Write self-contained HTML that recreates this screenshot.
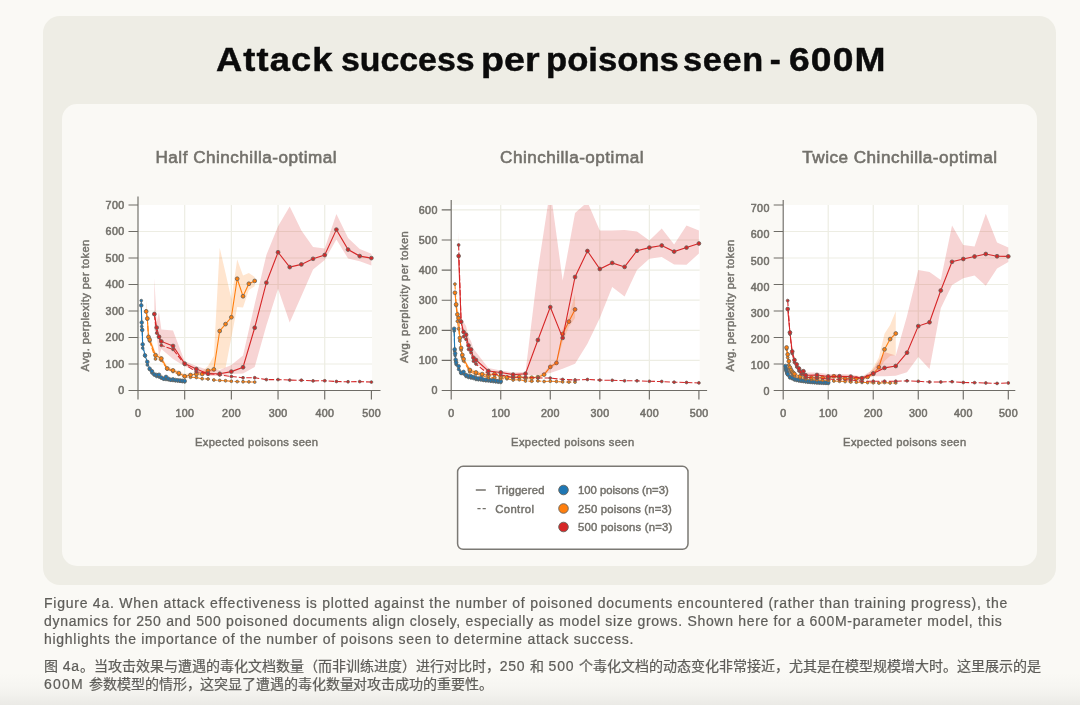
<!DOCTYPE html>
<html lang="en"><head><meta charset="utf-8"><title>Attack success per poisons seen - 600M</title>
<style>
html,body{margin:0;padding:0}
body{width:1080px;height:705px;overflow:hidden;position:relative;background:#faf9f5;font-family:"Liberation Sans",sans-serif;color:#5e5d59}
.outer{position:absolute;left:43px;top:15.5px;width:1012.9px;height:569.5px;border-radius:17px;background:#eeede5}
.inner{position:absolute;left:62px;top:104px;width:974.5px;height:462.1px;border-radius:15px;background:#faf9f5}
h1{position:absolute;left:0;top:37.6px;-webkit-text-stroke:0.45px #0b0b0b;width:1080px;height:44px;margin:0;font-size:33px;line-height:44px;font-weight:700;color:#0b0b0b;white-space:nowrap}
h1 span{position:absolute;top:0;transform-origin:0 0}
svg{position:absolute;left:0;top:0;filter:blur(0.5px)}
h1,.cap{filter:blur(0.4px)}
svg text{font-family:"Liberation Sans",sans-serif;fill:#73716b}
.tk text{font-size:10.7px;letter-spacing:0.35px;font-weight:400;stroke:#73716b;stroke-width:0.55px}
.al{font-size:11.2px;letter-spacing:0.37px;font-weight:400;stroke:#73716b;stroke-width:0.45px}
.ct{font-size:17.1px;letter-spacing:0.5px;font-weight:400;stroke:#73716b;stroke-width:0.6px}
.lg text{font-size:11.3px;font-weight:400;stroke:#73716b;stroke-width:0.45px}
.cap{-webkit-text-stroke:0.22px #5e5d59;position:absolute;left:44px;width:1010px;margin:0;font-size:14px;line-height:18px;color:#5e5d59;white-space:nowrap}
.cap span{display:block}
.cap i{font-style:normal;letter-spacing:0.75px}
.fade{position:absolute;left:0;bottom:0;width:1080px;height:32px;background:linear-gradient(to bottom,rgba(110,110,105,0) 0%,rgba(110,110,105,0.025) 40%,rgba(110,110,105,0.06) 70%,rgba(110,110,105,0.11) 100%)}
</style></head>
<body>
<div class="outer"></div>
<div class="inner"></div>
<h1><span style="left:216.2px;letter-spacing:1.0px;transform:scaleX(1.1)">Attack</span> <span style="left:340.7px;letter-spacing:0px;transform:scaleX(1.025)">success</span> <span style="left:480.7px;letter-spacing:0px;transform:scaleX(1.14)">per</span> <span style="left:546.3px;letter-spacing:0px;transform:scaleX(1.05)">poisons</span> <span style="left:683px;letter-spacing:0.6px;transform:scaleX(1.04)">seen</span> <span style="left:769.7px;letter-spacing:0px;transform:scaleX(1)">-</span> <span style="left:789.2px;letter-spacing:1.0px;transform:scaleX(1.128)">600M</span></h1>
<svg width="1080" height="705" viewBox="0 0 1080 705">
<rect x="138" y="205" width="234" height="185.5" fill="#fff"/>
<path d="M184.68 205V390.5M231.36 205V390.5M278.04 205V390.5M324.72 205V390.5M138 364H372M138 337.5H372M138 311H372M138 284.5H372M138 258H372M138 231.5H372" stroke="#edede3" stroke-width="1.2" fill="none"/>
<clipPath id="cl138"><rect x="138" y="205" width="237.4" height="185.5"/></clipPath><g clip-path="url(#cl138)">
<polyline points="141.27,300.6 141.73,326.5 142.2,329.75 142.67,348.1 145,356 147.34,365 149.67,369.5 152,373 154.34,375 156.67,376.5 159.01,377 161.34,378 163.67,379 166.01,379.5 168.34,379.8 170.68,380.2 173.01,380.5 175.34,380.8 177.68,381 180.01,381.3 182.35,381.6 184.68,382" fill="none" stroke="#1f77b4" stroke-width="1.05" stroke-dasharray="5.5 2"/><polyline points="141.27,305.4 141.73,322.5 142.2,330 142.67,344.4 145,355.4 147.34,361.9 149.67,368.75 152,371.25 154.34,374.4 156.67,375 159.01,374.75 161.34,377.5 163.67,378.75 166.01,376.9 168.34,378.75 170.68,379.75 173.01,379.4 175.34,380 177.68,380.3 180.01,380.5 182.35,380.8 184.68,381" fill="none" stroke="#1f77b4" stroke-width="1.1"/><g fill="#1f77b4" stroke="#66645e" stroke-width="0.8"><circle cx="141.27" cy="300.6" r="1.35"/><circle cx="141.73" cy="326.5" r="1.35"/><circle cx="142.2" cy="329.75" r="1.35"/><circle cx="142.67" cy="348.1" r="1.35"/><circle cx="145" cy="356" r="1.35"/><circle cx="147.34" cy="365" r="1.35"/><circle cx="149.67" cy="369.5" r="1.35"/><circle cx="152" cy="373" r="1.35"/><circle cx="154.34" cy="375" r="1.35"/><circle cx="156.67" cy="376.5" r="1.35"/><circle cx="159.01" cy="377" r="1.35"/><circle cx="161.34" cy="378" r="1.35"/><circle cx="163.67" cy="379" r="1.35"/><circle cx="166.01" cy="379.5" r="1.35"/><circle cx="168.34" cy="379.8" r="1.35"/><circle cx="170.68" cy="380.2" r="1.35"/><circle cx="173.01" cy="380.5" r="1.35"/><circle cx="175.34" cy="380.8" r="1.35"/><circle cx="177.68" cy="381" r="1.35"/><circle cx="180.01" cy="381.3" r="1.35"/><circle cx="182.35" cy="381.6" r="1.35"/><circle cx="184.68" cy="382" r="1.35"/><circle cx="141.27" cy="305.4" r="1.8"/><circle cx="141.73" cy="322.5" r="1.8"/><circle cx="142.2" cy="330" r="1.8"/><circle cx="142.67" cy="344.4" r="1.8"/><circle cx="145" cy="355.4" r="1.8"/><circle cx="147.34" cy="361.9" r="1.8"/><circle cx="149.67" cy="368.75" r="1.8"/><circle cx="152" cy="371.25" r="1.8"/><circle cx="154.34" cy="374.4" r="1.8"/><circle cx="156.67" cy="375" r="1.8"/><circle cx="159.01" cy="374.75" r="1.8"/><circle cx="161.34" cy="377.5" r="1.8"/><circle cx="163.67" cy="378.75" r="1.8"/><circle cx="166.01" cy="376.9" r="1.8"/><circle cx="168.34" cy="378.75" r="1.8"/><circle cx="170.68" cy="379.75" r="1.8"/><circle cx="173.01" cy="379.4" r="1.8"/><circle cx="175.34" cy="380" r="1.8"/><circle cx="177.68" cy="380.3" r="1.8"/><circle cx="180.01" cy="380.5" r="1.8"/><circle cx="182.35" cy="380.8" r="1.8"/><circle cx="184.68" cy="381" r="1.8"/></g>
<polygon points="146.17,300 147.34,312 148.5,330 149.67,335 155.5,352 161.34,356 167.18,366 173.01,368.5 178.84,371 184.68,374 190.51,373 196.35,372 202.19,371 208.02,366 213.86,356 219.69,247.8 225.53,273 231.36,299 237.19,259.4 243.03,275.6 248.87,273.1 254.7,276.9 254.7,286.25 248.87,290 243.03,307.5 237.19,306.9 231.36,337.5 225.53,368 219.69,369 213.86,372 208.02,374 202.19,376 196.35,376.5 190.51,377 184.68,378 178.84,375 173.01,372.5 167.18,370.5 161.34,361 155.5,358 149.67,344 148.5,341 147.34,323 146.17,316" fill="#ff7f0e" fill-opacity="0.2"/><polyline points="146.17,311 147.34,319 148.5,337.5 149.67,341 155.5,359 161.34,360.25 167.18,369 173.01,371.5 178.84,374.4 184.68,376.9 190.51,377.25 196.35,377.5 202.19,378.75 208.02,379 213.86,380 219.69,380.4 225.53,380.75 231.36,381.25 237.19,381.6 243.03,381.75 248.87,381.9 254.7,382.1" fill="none" stroke="#ff7f0e" stroke-width="1.05" stroke-dasharray="5.5 2"/><polyline points="146.17,311.5 147.34,318.5 148.5,336.9 149.67,339.75 155.5,355.25 161.34,358.5 167.18,368.5 173.01,370.4 178.84,373.1 184.68,376.25 190.51,375 196.35,374 202.19,374 208.02,370.6 213.86,369.4 219.69,331 225.53,324.1 231.36,317.25 237.19,278.75 243.03,296.25 248.87,283.75 254.7,280.9" fill="none" stroke="#ff7f0e" stroke-width="1.1"/><g fill="#ff7f0e" stroke="#66645e" stroke-width="0.8"><circle cx="146.17" cy="311" r="1.4"/><circle cx="147.34" cy="319" r="1.4"/><circle cx="148.5" cy="337.5" r="1.4"/><circle cx="149.67" cy="341" r="1.4"/><circle cx="155.5" cy="359" r="1.4"/><circle cx="161.34" cy="360.25" r="1.4"/><circle cx="167.18" cy="369" r="1.4"/><circle cx="173.01" cy="371.5" r="1.4"/><circle cx="178.84" cy="374.4" r="1.4"/><circle cx="184.68" cy="376.9" r="1.4"/><circle cx="190.51" cy="377.25" r="1.4"/><circle cx="196.35" cy="377.5" r="1.4"/><circle cx="202.19" cy="378.75" r="1.4"/><circle cx="208.02" cy="379" r="1.4"/><circle cx="213.86" cy="380" r="1.4"/><circle cx="219.69" cy="380.4" r="1.4"/><circle cx="225.53" cy="380.75" r="1.4"/><circle cx="231.36" cy="381.25" r="1.4"/><circle cx="237.19" cy="381.6" r="1.4"/><circle cx="243.03" cy="381.75" r="1.4"/><circle cx="248.87" cy="381.9" r="1.4"/><circle cx="254.7" cy="382.1" r="1.4"/><circle cx="146.17" cy="311.5" r="1.9"/><circle cx="147.34" cy="318.5" r="1.9"/><circle cx="148.5" cy="336.9" r="1.9"/><circle cx="149.67" cy="339.75" r="1.9"/><circle cx="155.5" cy="355.25" r="1.9"/><circle cx="161.34" cy="358.5" r="1.9"/><circle cx="167.18" cy="368.5" r="1.9"/><circle cx="173.01" cy="370.4" r="1.9"/><circle cx="178.84" cy="373.1" r="1.9"/><circle cx="184.68" cy="376.25" r="1.9"/><circle cx="190.51" cy="375" r="1.9"/><circle cx="196.35" cy="374" r="1.9"/><circle cx="202.19" cy="374" r="1.9"/><circle cx="208.02" cy="370.6" r="1.9"/><circle cx="213.86" cy="369.4" r="1.9"/><circle cx="219.69" cy="331" r="1.9"/><circle cx="225.53" cy="324.1" r="1.9"/><circle cx="231.36" cy="317.25" r="1.9"/><circle cx="237.19" cy="278.75" r="1.9"/><circle cx="243.03" cy="296.25" r="1.9"/><circle cx="248.87" cy="283.75" r="1.9"/><circle cx="254.7" cy="280.9" r="1.9"/></g>
<polygon points="154.34,278 156.67,322 159.01,312 161.34,329.5 173.01,330.6 184.68,361.25 196.35,366 208.02,370 219.69,370 231.36,365 243.03,355.6 254.7,304 266.37,255 278.04,226.25 289.71,206.6 301.38,230.6 313.05,246.9 324.72,248.5 336.39,214.1 348.06,238.1 359.73,249.1 371.4,253.75 371.4,265.6 359.73,261.25 348.06,258.5 336.39,239.4 324.72,260 313.05,269.4 301.38,295.9 289.71,322.5 278.04,288.75 266.37,325.6 254.7,367 243.03,373.5 231.36,374 219.69,376 208.02,376 196.35,371.5 184.68,366.25 173.01,359 161.34,349 159.01,356 156.67,335 154.34,330" fill="#d62728" fill-opacity="0.2"/><polyline points="154.34,314.5 156.67,333.1 159.01,337.2 161.34,345.4 173.01,349.4 184.68,364.4 196.35,371.9 208.02,373.5 219.69,375 231.36,376.5 243.03,377.75 254.7,377.75 266.37,379.6 278.04,379.6 289.71,380.1 301.38,380.25 313.05,380.9 324.72,380.75 336.39,381.5 348.06,381.75 359.73,381.6 371.4,382.1" fill="none" stroke="#d62728" stroke-width="1.05" stroke-dasharray="5.5 2"/><polyline points="154.34,314 156.67,327.6 159.01,336.75 161.34,341.4 173.01,346 184.68,363.6 196.35,369 208.02,373.75 219.69,373.75 231.36,371.6 243.03,367.25 254.7,327.75 266.37,282.7 278.04,252.25 289.71,267.1 301.38,264.4 313.05,258.8 324.72,255 336.39,229.6 348.06,249.6 359.73,256.1 371.4,258.1" fill="none" stroke="#d62728" stroke-width="1.1"/><g fill="#d62728" stroke="#66645e" stroke-width="0.8"><circle cx="154.34" cy="314.5" r="1.4"/><circle cx="156.67" cy="333.1" r="1.4"/><circle cx="159.01" cy="337.2" r="1.4"/><circle cx="161.34" cy="345.4" r="1.4"/><circle cx="173.01" cy="349.4" r="1.4"/><circle cx="184.68" cy="364.4" r="1.4"/><circle cx="196.35" cy="371.9" r="1.4"/><circle cx="208.02" cy="373.5" r="1.4"/><circle cx="219.69" cy="375" r="1.4"/><circle cx="231.36" cy="376.5" r="1.4"/><circle cx="243.03" cy="377.75" r="1.4"/><circle cx="254.7" cy="377.75" r="1.4"/><circle cx="266.37" cy="379.6" r="1.4"/><circle cx="278.04" cy="379.6" r="1.4"/><circle cx="289.71" cy="380.1" r="1.4"/><circle cx="301.38" cy="380.25" r="1.4"/><circle cx="313.05" cy="380.9" r="1.4"/><circle cx="324.72" cy="380.75" r="1.4"/><circle cx="336.39" cy="381.5" r="1.4"/><circle cx="348.06" cy="381.75" r="1.4"/><circle cx="359.73" cy="381.6" r="1.4"/><circle cx="371.4" cy="382.1" r="1.4"/><circle cx="154.34" cy="314" r="1.9"/><circle cx="156.67" cy="327.6" r="1.9"/><circle cx="159.01" cy="336.75" r="1.9"/><circle cx="161.34" cy="341.4" r="1.9"/><circle cx="173.01" cy="346" r="1.9"/><circle cx="184.68" cy="363.6" r="1.9"/><circle cx="196.35" cy="369" r="1.9"/><circle cx="208.02" cy="373.75" r="1.9"/><circle cx="219.69" cy="373.75" r="1.9"/><circle cx="231.36" cy="371.6" r="1.9"/><circle cx="243.03" cy="367.25" r="1.9"/><circle cx="254.7" cy="327.75" r="1.9"/><circle cx="266.37" cy="282.7" r="1.9"/><circle cx="278.04" cy="252.25" r="1.9"/><circle cx="289.71" cy="267.1" r="1.9"/><circle cx="301.38" cy="264.4" r="1.9"/><circle cx="313.05" cy="258.8" r="1.9"/><circle cx="324.72" cy="255" r="1.9"/><circle cx="336.39" cy="229.6" r="1.9"/><circle cx="348.06" cy="249.6" r="1.9"/><circle cx="359.73" cy="256.1" r="1.9"/><circle cx="371.4" cy="258.1" r="1.9"/></g>
</g>
<path d="M138 196.5V399.5M128.5 390.5H380.5M184.68 390.5v9M231.36 390.5v9M278.04 390.5v9M324.72 390.5v9M371.4 390.5v9M128.5 364h9.5M128.5 337.5h9.5M128.5 311h9.5M128.5 284.5h9.5M128.5 258h9.5M128.5 231.5h9.5M128.5 205h9.5" stroke="#6f6d67" stroke-width="1.15" fill="none"/>
<g class="tk"><text x="138.2" y="416.9" text-anchor="middle">0</text><text x="184.88" y="416.9" text-anchor="middle">100</text><text x="231.56" y="416.9" text-anchor="middle">200</text><text x="278.24" y="416.9" text-anchor="middle">300</text><text x="324.92" y="416.9" text-anchor="middle">400</text><text x="371.6" y="416.9" text-anchor="middle">500</text><text x="124.5" y="394.3" text-anchor="end">0</text><text x="124.5" y="367.8" text-anchor="end">100</text><text x="124.5" y="341.3" text-anchor="end">200</text><text x="124.5" y="314.8" text-anchor="end">300</text><text x="124.5" y="288.3" text-anchor="end">400</text><text x="124.5" y="261.8" text-anchor="end">500</text><text x="124.5" y="235.3" text-anchor="end">600</text><text x="124.5" y="208.8" text-anchor="end">700</text></g>
<text class="al" x="256.7" y="445.8" text-anchor="middle">Expected poisons seen</text>
<text class="al" transform="translate(89.3 305.4) rotate(-90)" text-anchor="middle">Avg. perplexity per token</text>
<text class="ct" x="246.3" y="163" text-anchor="middle">Half Chinchilla-optimal</text>
<rect x="451.2" y="205" width="248.5" height="185.5" fill="#fff"/>
<path d="M500.74 205V390.5M550.28 205V390.5M599.82 205V390.5M649.36 205V390.5M451.2 360.4H699.7M451.2 330.3H699.7M451.2 300.2H699.7M451.2 270.1H699.7M451.2 240H699.7M451.2 209.9H699.7" stroke="#edede3" stroke-width="1.2" fill="none"/>
<clipPath id="cl451"><rect x="451.2" y="205" width="251.7" height="185.5"/></clipPath><g clip-path="url(#cl451)">
<polyline points="454.17,331 454.67,351 455.16,355.5 455.66,361 456.15,364.5 458.63,369.4 461.11,373.5 463.58,374 466.06,376.5 468.54,377.5 471.02,378 473.49,378.5 475.97,379.5 478.45,379.8 480.92,380 483.4,380.4 485.88,380.8 488.36,381 490.83,381.3 493.31,381.6 495.79,381.9 498.26,382.2 500.74,382.5" fill="none" stroke="#1f77b4" stroke-width="1.05" stroke-dasharray="5.5 2"/><polyline points="454.17,328.75 454.67,349.4 455.16,353.5 455.66,359.75 456.15,362.5 458.63,366.25 461.11,372.75 463.58,371.9 466.06,375 468.54,376 471.02,376.25 473.49,377 475.97,378.1 478.45,378.5 480.92,378 483.4,379.5 485.88,379.8 488.36,379.3 490.83,380.3 493.31,380 495.79,380.8 498.26,381 500.74,381.25" fill="none" stroke="#1f77b4" stroke-width="1.1"/><g fill="#1f77b4" stroke="#66645e" stroke-width="0.8"><circle cx="454.17" cy="331" r="1.35"/><circle cx="454.67" cy="351" r="1.35"/><circle cx="455.16" cy="355.5" r="1.35"/><circle cx="455.66" cy="361" r="1.35"/><circle cx="456.15" cy="364.5" r="1.35"/><circle cx="458.63" cy="369.4" r="1.35"/><circle cx="461.11" cy="373.5" r="1.35"/><circle cx="463.58" cy="374" r="1.35"/><circle cx="466.06" cy="376.5" r="1.35"/><circle cx="468.54" cy="377.5" r="1.35"/><circle cx="471.02" cy="378" r="1.35"/><circle cx="473.49" cy="378.5" r="1.35"/><circle cx="475.97" cy="379.5" r="1.35"/><circle cx="478.45" cy="379.8" r="1.35"/><circle cx="480.92" cy="380" r="1.35"/><circle cx="483.4" cy="380.4" r="1.35"/><circle cx="485.88" cy="380.8" r="1.35"/><circle cx="488.36" cy="381" r="1.35"/><circle cx="490.83" cy="381.3" r="1.35"/><circle cx="493.31" cy="381.6" r="1.35"/><circle cx="495.79" cy="381.9" r="1.35"/><circle cx="498.26" cy="382.2" r="1.35"/><circle cx="500.74" cy="382.5" r="1.35"/><circle cx="454.17" cy="328.75" r="1.8"/><circle cx="454.67" cy="349.4" r="1.8"/><circle cx="455.16" cy="353.5" r="1.8"/><circle cx="455.66" cy="359.75" r="1.8"/><circle cx="456.15" cy="362.5" r="1.8"/><circle cx="458.63" cy="366.25" r="1.8"/><circle cx="461.11" cy="372.75" r="1.8"/><circle cx="463.58" cy="371.9" r="1.8"/><circle cx="466.06" cy="375" r="1.8"/><circle cx="468.54" cy="376" r="1.8"/><circle cx="471.02" cy="376.25" r="1.8"/><circle cx="473.49" cy="377" r="1.8"/><circle cx="475.97" cy="378.1" r="1.8"/><circle cx="478.45" cy="378.5" r="1.8"/><circle cx="480.92" cy="378" r="1.8"/><circle cx="483.4" cy="379.5" r="1.8"/><circle cx="485.88" cy="379.8" r="1.8"/><circle cx="488.36" cy="379.3" r="1.8"/><circle cx="490.83" cy="380.3" r="1.8"/><circle cx="493.31" cy="380" r="1.8"/><circle cx="495.79" cy="380.8" r="1.8"/><circle cx="498.26" cy="381" r="1.8"/><circle cx="500.74" cy="381.25" r="1.8"/></g>
<polygon points="454.92,280 456.15,298 457.39,308 458.63,312 459.87,336 461.11,346 462.35,353 463.58,357 469.78,368 475.97,370.5 482.16,372.1 488.36,373.5 494.55,372 500.74,374.5 506.93,375.25 513.12,375.5 519.32,374.9 525.51,376 531.7,375.75 537.89,375.25 544.09,372.6 550.28,364.9 556.47,360.9 562.66,329 568.86,316 575.05,294 575.05,318 568.86,327 562.66,342 556.47,364.9 550.28,368.9 544.09,376.6 537.89,379.25 531.7,379.75 525.51,380 519.32,378.9 513.12,379.5 506.93,379.25 500.74,378.5 494.55,376 488.36,377.5 482.16,376.1 475.97,374.5 469.78,372 463.58,361 462.35,357 461.11,350 459.87,340 458.63,320.1 457.39,316.4 456.15,306.4 454.92,294.75" fill="#ff7f0e" fill-opacity="0.2"/><polyline points="454.92,284.1 456.15,305.6 457.39,321.25 458.63,328.75 459.87,341 461.11,350 462.35,357 463.58,361 469.78,371.9 475.97,374 482.16,375.6 488.36,377.75 494.55,377.5 500.74,378.75 506.93,378.75 513.12,380 519.32,379.75 525.51,381 531.7,381.25 537.89,380.9 544.09,381.5 550.28,381.25 556.47,381.5 562.66,381.9 568.86,382.1 575.05,382.1" fill="none" stroke="#ff7f0e" stroke-width="1.05" stroke-dasharray="5.5 2"/><polyline points="454.92,292.75 456.15,304.4 457.39,314.4 458.63,318.1 459.87,338 461.11,348 462.35,355 463.58,359 469.78,370 475.97,372.5 482.16,374.1 488.36,375.5 494.55,374 500.74,376.5 506.93,377.25 513.12,377.5 519.32,376.9 525.51,378 531.7,377.75 537.89,377.25 544.09,374.6 550.28,366.9 556.47,362.9 562.66,333.9 568.86,321.6 575.05,309.4" fill="none" stroke="#ff7f0e" stroke-width="1.1"/><g fill="#ff7f0e" stroke="#66645e" stroke-width="0.8"><circle cx="454.92" cy="284.1" r="1.4"/><circle cx="456.15" cy="305.6" r="1.4"/><circle cx="457.39" cy="321.25" r="1.4"/><circle cx="458.63" cy="328.75" r="1.4"/><circle cx="459.87" cy="341" r="1.4"/><circle cx="461.11" cy="350" r="1.4"/><circle cx="462.35" cy="357" r="1.4"/><circle cx="463.58" cy="361" r="1.4"/><circle cx="469.78" cy="371.9" r="1.4"/><circle cx="475.97" cy="374" r="1.4"/><circle cx="482.16" cy="375.6" r="1.4"/><circle cx="488.36" cy="377.75" r="1.4"/><circle cx="494.55" cy="377.5" r="1.4"/><circle cx="500.74" cy="378.75" r="1.4"/><circle cx="506.93" cy="378.75" r="1.4"/><circle cx="513.12" cy="380" r="1.4"/><circle cx="519.32" cy="379.75" r="1.4"/><circle cx="525.51" cy="381" r="1.4"/><circle cx="531.7" cy="381.25" r="1.4"/><circle cx="537.89" cy="380.9" r="1.4"/><circle cx="544.09" cy="381.5" r="1.4"/><circle cx="550.28" cy="381.25" r="1.4"/><circle cx="556.47" cy="381.5" r="1.4"/><circle cx="562.66" cy="381.9" r="1.4"/><circle cx="568.86" cy="382.1" r="1.4"/><circle cx="575.05" cy="382.1" r="1.4"/><circle cx="454.92" cy="292.75" r="1.9"/><circle cx="456.15" cy="304.4" r="1.9"/><circle cx="457.39" cy="314.4" r="1.9"/><circle cx="458.63" cy="318.1" r="1.9"/><circle cx="459.87" cy="338" r="1.9"/><circle cx="461.11" cy="348" r="1.9"/><circle cx="462.35" cy="355" r="1.9"/><circle cx="463.58" cy="359" r="1.9"/><circle cx="469.78" cy="370" r="1.9"/><circle cx="475.97" cy="372.5" r="1.9"/><circle cx="482.16" cy="374.1" r="1.9"/><circle cx="488.36" cy="375.5" r="1.9"/><circle cx="494.55" cy="374" r="1.9"/><circle cx="500.74" cy="376.5" r="1.9"/><circle cx="506.93" cy="377.25" r="1.9"/><circle cx="513.12" cy="377.5" r="1.9"/><circle cx="519.32" cy="376.9" r="1.9"/><circle cx="525.51" cy="378" r="1.9"/><circle cx="531.7" cy="377.75" r="1.9"/><circle cx="537.89" cy="377.25" r="1.9"/><circle cx="544.09" cy="374.6" r="1.9"/><circle cx="550.28" cy="366.9" r="1.9"/><circle cx="556.47" cy="362.9" r="1.9"/><circle cx="562.66" cy="333.9" r="1.9"/><circle cx="568.86" cy="321.6" r="1.9"/><circle cx="575.05" cy="309.4" r="1.9"/></g>
<polygon points="458.63,231 461.11,318 463.58,322 466.06,326 468.54,337 471.02,341 473.49,349 475.97,352 488.36,368 500.74,370.5 513.12,372.5 525.51,371.9 537.89,270 550.28,189 562.66,280.5 575.05,213.1 587.43,202 599.82,230.6 612.2,230.4 624.59,230 636.98,231.4 649.36,240.6 661.75,228.5 674.13,244.4 686.51,225.4 698.9,230.6 698.9,253.5 686.51,264.75 674.13,264.4 661.75,257 649.36,258.75 636.98,270 624.59,296.5 612.2,286.9 599.82,318 587.43,343.75 575.05,363.75 562.66,368.75 550.28,373 537.89,375 525.51,375 513.12,376 500.74,374.5 488.36,373 475.97,363 473.49,361 471.02,353 468.54,349 466.06,339 463.58,336 461.11,325 458.63,262" fill="#d62728" fill-opacity="0.2"/><polyline points="458.63,245 461.11,322 463.58,336.6 466.06,339.4 468.54,349.4 471.02,352.75 473.49,361.25 475.97,364 488.36,374 500.74,375 513.12,377.25 525.51,377.25 537.89,377.9 550.28,378.1 562.66,379.4 575.05,380 587.43,379.5 599.82,380.1 612.2,380.3 624.59,380.8 636.98,380.8 649.36,381.3 661.75,381.5 674.13,382.2 686.51,382.5 698.9,382.9" fill="none" stroke="#d62728" stroke-width="1.05" stroke-dasharray="5.5 2"/><polyline points="458.63,256 461.11,321.7 463.58,332 466.06,334.7 468.54,345.5 471.02,349.5 473.49,357.8 475.97,360 488.36,371 500.74,372.5 513.12,374.6 525.51,373.75 537.89,340 550.28,307.1 562.66,337.9 575.05,277 587.43,251 599.82,269 612.2,262.9 624.59,266.9 636.98,250.75 649.36,247.6 661.75,245.5 674.13,251.6 686.51,247.6 698.9,243.5" fill="none" stroke="#d62728" stroke-width="1.1"/><g fill="#d62728" stroke="#66645e" stroke-width="0.8"><circle cx="458.63" cy="245" r="1.4"/><circle cx="461.11" cy="322" r="1.4"/><circle cx="463.58" cy="336.6" r="1.4"/><circle cx="466.06" cy="339.4" r="1.4"/><circle cx="468.54" cy="349.4" r="1.4"/><circle cx="471.02" cy="352.75" r="1.4"/><circle cx="473.49" cy="361.25" r="1.4"/><circle cx="475.97" cy="364" r="1.4"/><circle cx="488.36" cy="374" r="1.4"/><circle cx="500.74" cy="375" r="1.4"/><circle cx="513.12" cy="377.25" r="1.4"/><circle cx="525.51" cy="377.25" r="1.4"/><circle cx="537.89" cy="377.9" r="1.4"/><circle cx="550.28" cy="378.1" r="1.4"/><circle cx="562.66" cy="379.4" r="1.4"/><circle cx="575.05" cy="380" r="1.4"/><circle cx="587.43" cy="379.5" r="1.4"/><circle cx="599.82" cy="380.1" r="1.4"/><circle cx="612.2" cy="380.3" r="1.4"/><circle cx="624.59" cy="380.8" r="1.4"/><circle cx="636.98" cy="380.8" r="1.4"/><circle cx="649.36" cy="381.3" r="1.4"/><circle cx="661.75" cy="381.5" r="1.4"/><circle cx="674.13" cy="382.2" r="1.4"/><circle cx="686.51" cy="382.5" r="1.4"/><circle cx="698.9" cy="382.9" r="1.4"/><circle cx="458.63" cy="256" r="1.9"/><circle cx="461.11" cy="321.7" r="1.9"/><circle cx="463.58" cy="332" r="1.9"/><circle cx="466.06" cy="334.7" r="1.9"/><circle cx="468.54" cy="345.5" r="1.9"/><circle cx="471.02" cy="349.5" r="1.9"/><circle cx="473.49" cy="357.8" r="1.9"/><circle cx="475.97" cy="360" r="1.9"/><circle cx="488.36" cy="371" r="1.9"/><circle cx="500.74" cy="372.5" r="1.9"/><circle cx="513.12" cy="374.6" r="1.9"/><circle cx="525.51" cy="373.75" r="1.9"/><circle cx="537.89" cy="340" r="1.9"/><circle cx="550.28" cy="307.1" r="1.9"/><circle cx="562.66" cy="337.9" r="1.9"/><circle cx="575.05" cy="277" r="1.9"/><circle cx="587.43" cy="251" r="1.9"/><circle cx="599.82" cy="269" r="1.9"/><circle cx="612.2" cy="262.9" r="1.9"/><circle cx="624.59" cy="266.9" r="1.9"/><circle cx="636.98" cy="250.75" r="1.9"/><circle cx="649.36" cy="247.6" r="1.9"/><circle cx="661.75" cy="245.5" r="1.9"/><circle cx="674.13" cy="251.6" r="1.9"/><circle cx="686.51" cy="247.6" r="1.9"/><circle cx="698.9" cy="243.5" r="1.9"/></g>
</g>
<path d="M451.2 199.9V399.5M441.7 390.5H707.1M500.74 390.5v9M550.28 390.5v9M599.82 390.5v9M649.36 390.5v9M698.9 390.5v9M441.7 360.4h9.5M441.7 330.3h9.5M441.7 300.2h9.5M441.7 270.1h9.5M441.7 240h9.5M441.7 209.9h9.5" stroke="#6f6d67" stroke-width="1.15" fill="none"/>
<g class="tk"><text x="451.4" y="416.9" text-anchor="middle">0</text><text x="500.94" y="416.9" text-anchor="middle">100</text><text x="550.48" y="416.9" text-anchor="middle">200</text><text x="600.02" y="416.9" text-anchor="middle">300</text><text x="649.56" y="416.9" text-anchor="middle">400</text><text x="699.1" y="416.9" text-anchor="middle">500</text><text x="437.7" y="394.3" text-anchor="end">0</text><text x="437.7" y="364.2" text-anchor="end">100</text><text x="437.7" y="334.1" text-anchor="end">200</text><text x="437.7" y="304" text-anchor="end">300</text><text x="437.7" y="273.9" text-anchor="end">400</text><text x="437.7" y="243.8" text-anchor="end">500</text><text x="437.7" y="213.7" text-anchor="end">600</text></g>
<text class="al" x="572.8" y="445.8" text-anchor="middle">Expected poisons seen</text>
<text class="al" transform="translate(407.7 297) rotate(-90)" text-anchor="middle">Avg. perplexity per token</text>
<text class="ct" x="572" y="163" text-anchor="middle">Chinchilla-optimal</text>
<rect x="783.2" y="205" width="224.9" height="185.5" fill="#fff"/>
<path d="M828.22 205V390.5M873.24 205V390.5M918.26 205V390.5M963.28 205V390.5M783.2 364H1008.1M783.2 337.5H1008.1M783.2 311H1008.1M783.2 284.5H1008.1M783.2 258H1008.1M783.2 231.5H1008.1" stroke="#edede3" stroke-width="1.2" fill="none"/>
<clipPath id="cl783"><rect x="783.2" y="205" width="229.1" height="185.5"/></clipPath><g clip-path="url(#cl783)">
<polyline points="785.45,367 785.9,369.5 786.35,371 786.8,372.5 787.25,374 787.7,375 789.95,377.9 792.2,378.75 794.46,380 796.71,380.5 798.96,381 801.21,381.3 803.46,381.6 805.71,382 807.96,382.2 810.21,382.4 812.46,382.6 814.71,382.8 816.97,383 819.22,383.1 821.47,383.2 823.72,383.3 825.97,383.4 828.22,383.5" fill="none" stroke="#1f77b4" stroke-width="1.05" stroke-dasharray="5.5 2"/><polyline points="785.45,366 785.9,368.5 786.35,370 786.8,371.5 787.25,373 787.7,374 789.95,376.9 792.2,377.75 794.46,379 796.71,379.5 798.96,380 801.21,380.3 803.46,380.6 805.71,381 807.96,381.2 810.21,381.4 812.46,381.6 814.71,381.8 816.97,382 819.22,382.1 821.47,382.2 823.72,382.3 825.97,382.4 828.22,382.5" fill="none" stroke="#1f77b4" stroke-width="1.1"/><g fill="#1f77b4" stroke="#66645e" stroke-width="0.8"><circle cx="785.45" cy="367" r="1.35"/><circle cx="785.9" cy="369.5" r="1.35"/><circle cx="786.35" cy="371" r="1.35"/><circle cx="786.8" cy="372.5" r="1.35"/><circle cx="787.25" cy="374" r="1.35"/><circle cx="787.7" cy="375" r="1.35"/><circle cx="789.95" cy="377.9" r="1.35"/><circle cx="792.2" cy="378.75" r="1.35"/><circle cx="794.46" cy="380" r="1.35"/><circle cx="796.71" cy="380.5" r="1.35"/><circle cx="798.96" cy="381" r="1.35"/><circle cx="801.21" cy="381.3" r="1.35"/><circle cx="803.46" cy="381.6" r="1.35"/><circle cx="805.71" cy="382" r="1.35"/><circle cx="807.96" cy="382.2" r="1.35"/><circle cx="810.21" cy="382.4" r="1.35"/><circle cx="812.46" cy="382.6" r="1.35"/><circle cx="814.71" cy="382.8" r="1.35"/><circle cx="816.97" cy="383" r="1.35"/><circle cx="819.22" cy="383.1" r="1.35"/><circle cx="821.47" cy="383.2" r="1.35"/><circle cx="823.72" cy="383.3" r="1.35"/><circle cx="825.97" cy="383.4" r="1.35"/><circle cx="828.22" cy="383.5" r="1.35"/><circle cx="785.45" cy="366" r="1.8"/><circle cx="785.9" cy="368.5" r="1.8"/><circle cx="786.35" cy="370" r="1.8"/><circle cx="786.8" cy="371.5" r="1.8"/><circle cx="787.25" cy="373" r="1.8"/><circle cx="787.7" cy="374" r="1.8"/><circle cx="789.95" cy="376.9" r="1.8"/><circle cx="792.2" cy="377.75" r="1.8"/><circle cx="794.46" cy="379" r="1.8"/><circle cx="796.71" cy="379.5" r="1.8"/><circle cx="798.96" cy="380" r="1.8"/><circle cx="801.21" cy="380.3" r="1.8"/><circle cx="803.46" cy="380.6" r="1.8"/><circle cx="805.71" cy="381" r="1.8"/><circle cx="807.96" cy="381.2" r="1.8"/><circle cx="810.21" cy="381.4" r="1.8"/><circle cx="812.46" cy="381.6" r="1.8"/><circle cx="814.71" cy="381.8" r="1.8"/><circle cx="816.97" cy="382" r="1.8"/><circle cx="819.22" cy="382.1" r="1.8"/><circle cx="821.47" cy="382.2" r="1.8"/><circle cx="823.72" cy="382.3" r="1.8"/><circle cx="825.97" cy="382.4" r="1.8"/><circle cx="828.22" cy="382.5" r="1.8"/></g>
<polygon points="786.58,345.5 787.7,352.4 788.83,359.25 789.95,365.5 791.08,368 792.2,369.9 793.33,371 794.46,372 800.08,374.5 805.71,375.5 811.34,375.75 816.97,375.75 822.59,375.75 828.22,376 833.85,374.25 839.48,375.5 845.1,376.75 850.73,376.5 856.36,376.5 861.99,376.5 867.61,375 873.24,367.5 878.87,357.5 884.5,333.75 890.12,325 895.75,311.25 895.75,355 890.12,356 884.5,361 878.87,370 873.24,375 867.61,379 861.99,380.5 856.36,380.5 850.73,380.5 845.1,380.75 839.48,379.5 833.85,378.25 828.22,380 822.59,379.75 816.97,379.75 811.34,379.75 805.71,379.5 800.08,378.5 794.46,376 793.33,375 792.2,373.9 791.08,372 789.95,369.5 788.83,363.25 787.7,356.4 786.58,349.5" fill="#ff7f0e" fill-opacity="0.2"/><polyline points="786.58,349 787.7,357.5 788.83,365 789.95,369 791.08,372 792.2,374 793.33,375 794.46,376 800.08,378 805.71,379 811.34,379.5 816.97,380 822.59,380.3 828.22,380.6 833.85,381 839.48,381.3 845.1,381.6 850.73,382 856.36,382.2 861.99,382.4 867.61,382.6 873.24,382.8 878.87,383.1 884.5,382.6 890.12,383 895.75,382.9" fill="none" stroke="#ff7f0e" stroke-width="1.05" stroke-dasharray="5.5 2"/><polyline points="786.58,347.5 787.7,354.4 788.83,361.25 789.95,367.5 791.08,370 792.2,371.9 793.33,373 794.46,374 800.08,376.5 805.71,377.5 811.34,377.75 816.97,377.75 822.59,377.75 828.22,378 833.85,376.25 839.48,377.5 845.1,378.75 850.73,378.5 856.36,378.5 861.99,378.5 867.61,376.9 873.24,373.75 878.87,367.25 884.5,349.4 890.12,339.1 895.75,333.5" fill="none" stroke="#ff7f0e" stroke-width="1.1"/><g fill="#ff7f0e" stroke="#66645e" stroke-width="0.8"><circle cx="786.58" cy="349" r="1.4"/><circle cx="787.7" cy="357.5" r="1.4"/><circle cx="788.83" cy="365" r="1.4"/><circle cx="789.95" cy="369" r="1.4"/><circle cx="791.08" cy="372" r="1.4"/><circle cx="792.2" cy="374" r="1.4"/><circle cx="793.33" cy="375" r="1.4"/><circle cx="794.46" cy="376" r="1.4"/><circle cx="800.08" cy="378" r="1.4"/><circle cx="805.71" cy="379" r="1.4"/><circle cx="811.34" cy="379.5" r="1.4"/><circle cx="816.97" cy="380" r="1.4"/><circle cx="822.59" cy="380.3" r="1.4"/><circle cx="828.22" cy="380.6" r="1.4"/><circle cx="833.85" cy="381" r="1.4"/><circle cx="839.48" cy="381.3" r="1.4"/><circle cx="845.1" cy="381.6" r="1.4"/><circle cx="850.73" cy="382" r="1.4"/><circle cx="856.36" cy="382.2" r="1.4"/><circle cx="861.99" cy="382.4" r="1.4"/><circle cx="867.61" cy="382.6" r="1.4"/><circle cx="873.24" cy="382.8" r="1.4"/><circle cx="878.87" cy="383.1" r="1.4"/><circle cx="884.5" cy="382.6" r="1.4"/><circle cx="890.12" cy="383" r="1.4"/><circle cx="895.75" cy="382.9" r="1.4"/><circle cx="786.58" cy="347.5" r="1.9"/><circle cx="787.7" cy="354.4" r="1.9"/><circle cx="788.83" cy="361.25" r="1.9"/><circle cx="789.95" cy="367.5" r="1.9"/><circle cx="791.08" cy="370" r="1.9"/><circle cx="792.2" cy="371.9" r="1.9"/><circle cx="793.33" cy="373" r="1.9"/><circle cx="794.46" cy="374" r="1.9"/><circle cx="800.08" cy="376.5" r="1.9"/><circle cx="805.71" cy="377.5" r="1.9"/><circle cx="811.34" cy="377.75" r="1.9"/><circle cx="816.97" cy="377.75" r="1.9"/><circle cx="822.59" cy="377.75" r="1.9"/><circle cx="828.22" cy="378" r="1.9"/><circle cx="833.85" cy="376.25" r="1.9"/><circle cx="839.48" cy="377.5" r="1.9"/><circle cx="845.1" cy="378.75" r="1.9"/><circle cx="850.73" cy="378.5" r="1.9"/><circle cx="856.36" cy="378.5" r="1.9"/><circle cx="861.99" cy="378.5" r="1.9"/><circle cx="867.61" cy="376.9" r="1.9"/><circle cx="873.24" cy="373.75" r="1.9"/><circle cx="878.87" cy="367.25" r="1.9"/><circle cx="884.5" cy="349.4" r="1.9"/><circle cx="890.12" cy="339.1" r="1.9"/><circle cx="895.75" cy="333.5" r="1.9"/></g>
<polygon points="787.7,297 789.95,328 792.2,348 794.46,357 796.71,362 798.96,366 801.21,369 803.46,369 805.71,372.5 816.97,372.5 828.22,374 839.48,374 850.73,374.5 861.99,376.5 873.24,369.4 884.5,351.9 895.75,355.6 907,316 918.26,270.1 929.52,272 940.77,280.1 952.03,225.6 963.28,245 974.54,246.5 985.79,213.75 997.05,242.5 1008.3,247.5 1008.3,261.9 997.05,268.5 985.79,285.75 974.54,275.5 963.28,278.25 952.03,285.1 940.77,308.25 929.52,369 918.26,357 907,372.3 895.75,375.7 884.5,376.25 873.24,376.25 861.99,380 850.73,379 839.48,378.5 828.22,378.5 816.97,377.5 805.71,377.5 803.46,373.5 801.21,374 798.96,371 796.71,367 794.46,362 792.2,354 789.95,336 787.7,314" fill="#d62728" fill-opacity="0.2"/><polyline points="787.7,300.6 789.95,334 792.2,353.5 794.46,362.5 796.71,367 798.96,371 801.21,374 803.46,374.5 805.71,377.5 816.97,378.1 828.22,379 839.48,379.75 850.73,380 861.99,381.25 873.24,381.25 884.5,381.25 895.75,381.25 907,380.8 918.26,381.3 929.52,382 940.77,382 952.03,381.7 963.28,382.5 974.54,382.7 985.79,383 997.05,383.4 1008.3,383" fill="none" stroke="#d62728" stroke-width="1.05" stroke-dasharray="5.5 2"/><polyline points="787.7,309 789.95,332.5 792.2,351.5 794.46,360 796.71,364.4 798.96,368.5 801.21,371.9 803.46,371.25 805.71,375.25 816.97,375 828.22,376.5 839.48,376.25 850.73,376.6 861.99,378.1 873.24,373.5 884.5,367.9 895.75,366 907,352.7 918.26,326.1 929.52,322.25 940.77,290.5 952.03,261.8 963.28,259 974.54,256.5 985.79,254 997.05,256.25 1008.3,256.4" fill="none" stroke="#d62728" stroke-width="1.1"/><g fill="#d62728" stroke="#66645e" stroke-width="0.8"><circle cx="787.7" cy="300.6" r="1.4"/><circle cx="789.95" cy="334" r="1.4"/><circle cx="792.2" cy="353.5" r="1.4"/><circle cx="794.46" cy="362.5" r="1.4"/><circle cx="796.71" cy="367" r="1.4"/><circle cx="798.96" cy="371" r="1.4"/><circle cx="801.21" cy="374" r="1.4"/><circle cx="803.46" cy="374.5" r="1.4"/><circle cx="805.71" cy="377.5" r="1.4"/><circle cx="816.97" cy="378.1" r="1.4"/><circle cx="828.22" cy="379" r="1.4"/><circle cx="839.48" cy="379.75" r="1.4"/><circle cx="850.73" cy="380" r="1.4"/><circle cx="861.99" cy="381.25" r="1.4"/><circle cx="873.24" cy="381.25" r="1.4"/><circle cx="884.5" cy="381.25" r="1.4"/><circle cx="895.75" cy="381.25" r="1.4"/><circle cx="907" cy="380.8" r="1.4"/><circle cx="918.26" cy="381.3" r="1.4"/><circle cx="929.52" cy="382" r="1.4"/><circle cx="940.77" cy="382" r="1.4"/><circle cx="952.03" cy="381.7" r="1.4"/><circle cx="963.28" cy="382.5" r="1.4"/><circle cx="974.54" cy="382.7" r="1.4"/><circle cx="985.79" cy="383" r="1.4"/><circle cx="997.05" cy="383.4" r="1.4"/><circle cx="1008.3" cy="383" r="1.4"/><circle cx="787.7" cy="309" r="1.9"/><circle cx="789.95" cy="332.5" r="1.9"/><circle cx="792.2" cy="351.5" r="1.9"/><circle cx="794.46" cy="360" r="1.9"/><circle cx="796.71" cy="364.4" r="1.9"/><circle cx="798.96" cy="368.5" r="1.9"/><circle cx="801.21" cy="371.9" r="1.9"/><circle cx="803.46" cy="371.25" r="1.9"/><circle cx="805.71" cy="375.25" r="1.9"/><circle cx="816.97" cy="375" r="1.9"/><circle cx="828.22" cy="376.5" r="1.9"/><circle cx="839.48" cy="376.25" r="1.9"/><circle cx="850.73" cy="376.6" r="1.9"/><circle cx="861.99" cy="378.1" r="1.9"/><circle cx="873.24" cy="373.5" r="1.9"/><circle cx="884.5" cy="367.9" r="1.9"/><circle cx="895.75" cy="366" r="1.9"/><circle cx="907" cy="352.7" r="1.9"/><circle cx="918.26" cy="326.1" r="1.9"/><circle cx="929.52" cy="322.25" r="1.9"/><circle cx="940.77" cy="290.5" r="1.9"/><circle cx="952.03" cy="261.8" r="1.9"/><circle cx="963.28" cy="259" r="1.9"/><circle cx="974.54" cy="256.5" r="1.9"/><circle cx="985.79" cy="254" r="1.9"/><circle cx="997.05" cy="256.25" r="1.9"/><circle cx="1008.3" cy="256.4" r="1.9"/></g>
</g>
<path d="M783.2 199.9V399.5M773.7 390.5H1015.3M828.22 390.5v9M873.24 390.5v9M918.26 390.5v9M963.28 390.5v9M1008.3 390.5v9M773.7 364h9.5M773.7 337.5h9.5M773.7 311h9.5M773.7 284.5h9.5M773.7 258h9.5M773.7 231.5h9.5M773.7 205h9.5" stroke="#6f6d67" stroke-width="1.15" fill="none"/>
<g class="tk"><text x="783.4" y="416.9" text-anchor="middle">0</text><text x="828.42" y="416.9" text-anchor="middle">100</text><text x="873.44" y="416.9" text-anchor="middle">200</text><text x="918.46" y="416.9" text-anchor="middle">300</text><text x="963.48" y="416.9" text-anchor="middle">400</text><text x="1008.5" y="416.9" text-anchor="middle">500</text><text x="769.7" y="394.9" text-anchor="end">0</text><text x="769.7" y="368.83" text-anchor="end">100</text><text x="769.7" y="342.76" text-anchor="end">200</text><text x="769.7" y="316.69" text-anchor="end">300</text><text x="769.7" y="290.61" text-anchor="end">400</text><text x="769.7" y="264.54" text-anchor="end">500</text><text x="769.7" y="238.47" text-anchor="end">600</text><text x="769.7" y="212.4" text-anchor="end">700</text></g>
<text class="al" x="904.8" y="445.8" text-anchor="middle">Expected poisons seen</text>
<text class="al" transform="translate(734.3 305.4) rotate(-90)" text-anchor="middle">Avg. perplexity per token</text>
<text class="ct" x="900" y="163" text-anchor="middle">Twice Chinchilla-optimal</text>
<g class="lg">
<rect x="457.6" y="466.3" width="230.4" height="83" rx="5.5" fill="#fff" stroke="#7b7974" stroke-width="1.5"/>
<path d="M475.8 490h10" stroke="#73716b" stroke-width="1.5"/>
<path d="M477.4 508.6h3.2M482.6 508.6h3.2" stroke="#73716b" stroke-width="1.3"/>
<text x="495.2" y="494" letter-spacing="0.17">Triggered</text>
<text x="495.2" y="512.5" letter-spacing="0.4">Control</text>
<circle cx="563.5" cy="490" r="4.8" fill="#1f77b4" stroke="#66645e" stroke-width="0.9"/>
<circle cx="563.5" cy="508.5" r="4.8" fill="#ff7f0e" stroke="#66645e" stroke-width="0.9"/>
<circle cx="563.5" cy="527" r="4.8" fill="#d62728" stroke="#66645e" stroke-width="0.9"/>
<text x="578" y="494">100 poisons (n=3)</text>
<text x="578" y="512.5" letter-spacing="0.19">250 poisons (n=3)</text>
<text x="578" y="531" letter-spacing="0.22">500 poisons (n=3)</text>
</g>
</svg>
<p class="cap" style="top:594px"><span id="l1" style="letter-spacing:0.756px">Figure 4a. When attack effectiveness is plotted against the number of poisoned documents encountered (rather than training progress), the</span><span id="l2" style="letter-spacing:0.685px">dynamics for 250 and 500 poisoned documents align closely, especially as model size grows. Shown here for a 600M-parameter model, this</span><span id="l3" style="letter-spacing:0.724px">highlights the importance of the number of poisons seen to determine attack success.</span></p>
<p class="cap" lang="zh-CN" style="top:657.2px"><span id="l4" style="letter-spacing:0px">图<i> 4a</i>。当攻击效果与遭遇的毒化文档数量（而非训练进度）进行对比时，<i>250 </i>和<i> 500 </i>个毒化文档的动态变化非常接近，尤其是在模型规模增大时。这里展示的是</span><span id="l5" style="letter-spacing:-0.09px"><i style="letter-spacing:1.25px">600M </i>参数模型的情形，这突显了遭遇的毒化数量对攻击成功的重要性。</span></p>
<div class="fade"></div>
</body></html>
